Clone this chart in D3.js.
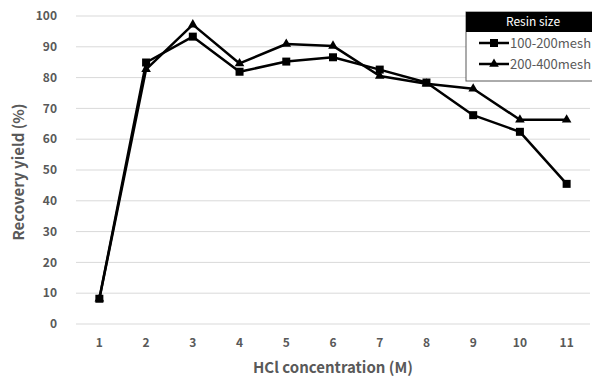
<!DOCTYPE html>
<html>
<head>
<meta charset="utf-8">
<script src="https://cdn.jsdelivr.net/npm/d3@7"></script>
<style>
  body { margin: 0; background: #fff; }
  svg { display: block; font-family: "Noto Sans CJK KR", "Noto Sans", sans-serif; }
</style>
</head>
<body>
<div id="chart"></div>
<script>
const concentrations = ["1", "2", "3", "4", "5", "6", "7", "8", "9", "10", "11"];
const mesh100 = [8.2, 84.9, 93.3, 81.9, 85.2, 86.6, 82.6, 78.4, 67.8, 62.4, 45.5];
const mesh200 = [8.2, 82.7, 97.2, 84.6, 90.9, 90.3, 80.5, 78.0, 76.4, 66.3, 66.3];
const yTicks = [0, 10, 20, 30, 40, 50, 60, 70, 80, 90, 100];
const seriesNames = ["100-200mesh", "200-400mesh"];

const width = 592, height = 378;
const margin = { top: 16, right: 2, bottom: 54, left: 76 };

const svg = d3.select("#chart").append("svg")
  .attr("width", width)
  .attr("height", height);

const x = d3.scaleBand()
  .domain(concentrations)
  .range([margin.left, width - margin.right]);

const y = d3.scaleLinear()
  .domain([0, 100])
  .range([height - margin.bottom, margin.top]);

// gridlines
svg.append("g")
  .selectAll("line")
  .data(yTicks)
  .join("line")
  .attr("x1", margin.left)
  .attr("x2", width - margin.right)
  .attr("y1", d => y(d))
  .attr("y2", d => y(d))
  .attr("stroke", "#d9d9d9")
  .attr("stroke-width", 1);

// y tick labels
svg.append("g")
  .selectAll("text")
  .data(yTicks)
  .join("text")
  .attr("x", 57)
  .attr("y", d => y(d))
  .attr("dy", "0.35em")
  .attr("text-anchor", "end")
  .attr("font-size", 12)
  .attr("font-weight", "bold")
  .attr("fill", "#595959")
  .text(d => d);

// x tick labels
svg.append("g")
  .selectAll("text")
  .data(concentrations)
  .join("text")
  .attr("x", d => x(d) + x.bandwidth() / 2)
  .attr("y", 343)
  .attr("dy", "0.35em")
  .attr("text-anchor", "middle")
  .attr("font-size", 12)
  .attr("font-weight", "bold")
  .attr("fill", "#595959")
  .text(d => d);

// axis titles
svg.append("text")
  .attr("x", 333)
  .attr("y", 373)
  .attr("text-anchor", "middle")
  .attr("font-size", 15)
  .attr("font-weight", "bold")
  .attr("fill", "#595959")
  .text("HCl concentration (M)");

svg.append("text")
  .attr("transform", "rotate(-90)")
  .attr("x", -172)
  .attr("y", 24)
  .attr("text-anchor", "middle")
  .attr("font-size", 15)
  .attr("font-weight", "bold")
  .attr("fill", "#595959")
  .text("Recovery yield (%)");

const cx = (d, i) => x(concentrations[i]) + x.bandwidth() / 2;
const line = d3.line().x(cx).y(d => y(d));
const square = d3.symbol().type(d3.symbolSquare).size(64);
const triangle = d3.symbol().type(d3.symbolTriangle).size(40);

// lines first, then markers (squares on top)
[mesh200, mesh100].forEach(values => {
  svg.append("path")
    .datum(values)
    .attr("fill", "none")
    .attr("stroke", "#000")
    .attr("stroke-width", 2.5)
    .attr("stroke-linejoin", "round")
    .attr("d", line);
});

function drawMarkers(values, symbol) {
  svg.append("g")
    .selectAll("path")
    .data(values)
    .join("path")
    .attr("transform", (d, i) => `translate(${cx(d, i)},${y(d)})`)
    .attr("d", symbol)
    .attr("fill", "#000");
}

drawMarkers(mesh200, triangle);
drawMarkers(mesh100, square);

// legend
const legend = svg.append("g");
legend.append("rect")
  .attr("x", 466).attr("y", 12)
  .attr("width", 130).attr("height", 69)
  .attr("fill", "#fff")
  .attr("stroke", "#595959")
  .attr("stroke-width", 1);
legend.append("rect")
  .attr("x", 466).attr("y", 12)
  .attr("width", 130).attr("height", 20)
  .attr("fill", "#000");
legend.append("text")
  .attr("x", 533).attr("y", 22)
  .attr("dy", "0.35em")
  .attr("text-anchor", "middle")
  .attr("font-size", 12)
  .attr("fill", "#fff")
  .text("Resin size");

const legendRows = [
  { name: seriesNames[0], symbol: square, yPos: 43 },
  { name: seriesNames[1], symbol: triangle, yPos: 64 }
];
legendRows.forEach(r => {
  legend.append("line")
    .attr("x1", 479).attr("x2", 509)
    .attr("y1", r.yPos).attr("y2", r.yPos)
    .attr("stroke", "#000").attr("stroke-width", 2.5);
  legend.append("path")
    .attr("transform", `translate(494,${r.yPos})`)
    .attr("d", r.symbol)
    .attr("fill", "#000");
  legend.append("text")
    .attr("x", 510).attr("y", r.yPos)
    .attr("dy", "0.35em")
    .attr("font-size", 13)
    .attr("fill", "#595959")
    .text(r.name);
});
</script>
</body>
</html>
